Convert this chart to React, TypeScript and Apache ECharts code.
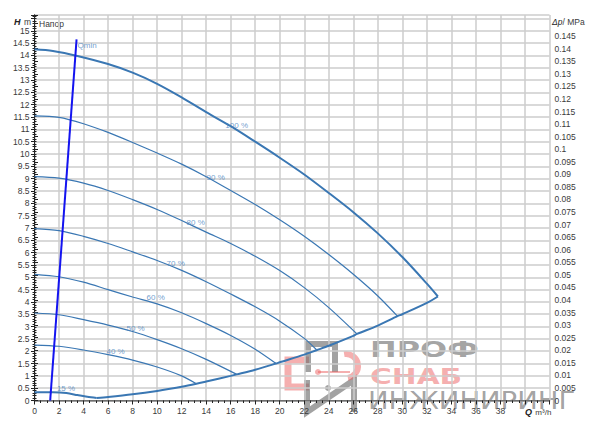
import React, { useEffect, useRef } from "react";
import * as echarts from "echarts";

// ---- data (Q in m³/h, H in m) ----
const q100 = [0, 1.5, 3.5, 6, 8, 10, 12, 14, 16, 18, 20, 22, 24, 26, 28, 30, 32, 32.9];
const h100 = [14.25, 14.18, 13.98, 13.65, 13.3, 12.85, 12.3, 11.7, 11.13, 10.5, 9.85, 9.17, 8.42, 7.64, 6.78, 5.82, 4.74, 4.22];

const q90 = [0, 2, 4, 6, 8, 10, 12, 14, 16, 18, 20, 22, 24, 26, 28, 29.6];
const h90 = [11.55, 11.49, 11.23, 10.88, 10.47, 10.04, 9.59, 9.08, 8.52, 7.95, 7.33, 6.66, 5.92, 5.12, 4.24, 3.42];

const q80 = [0, 2, 4, 6, 8, 10, 12, 14, 16, 18, 20, 22, 24, 26.3];
const h80 = [9.08, 9.02, 8.82, 8.52, 8.15, 7.75, 7.3, 6.83, 6.37, 5.85, 5.27, 4.58, 3.77, 2.7];

const q70 = [0, 2, 4, 6, 8, 10, 12, 14, 16, 18, 20, 22, 23];
const h70 = [6.97, 6.89, 6.66, 6.37, 6.03, 5.68, 5.28, 4.82, 4.32, 3.8, 3.22, 2.52, 2.06];

const q60 = [0, 2, 4, 6, 8, 10, 12, 14, 16, 18, 19.7];
const h60 = [5.12, 5.02, 4.8, 4.5, 4.2, 3.92, 3.56, 3.12, 2.64, 2.08, 1.5];

const q50 = [0, 2, 4, 6, 8, 10, 12, 14, 16.5];
const h50 = [3.55, 3.48, 3.28, 3.06, 2.8, 2.47, 2.1, 1.67, 1.06];

const q40 = [0, 2, 4, 6, 8, 10, 12, 13.2];
const h40 = [2.25, 2.2, 2.05, 1.86, 1.64, 1.36, 1.0, 0.68];

const q15 = [0, 1.5, 2.6, 3.5, 4.3, 5.07];
const h15 = [0.33, 0.33, 0.3, 0.22, 0.15, 0.1];

const qSys = [5.07, 6, 8, 10, 12, 13.2, 14, 16, 16.5, 18, 19.7, 20, 22, 23, 24, 26, 26.3, 28, 29.6, 30, 32, 32.9];
const hSys = [0.1, 0.14, 0.25, 0.39, 0.56, 0.68, 0.77, 1.0, 1.06, 1.25, 1.5, 1.55, 1.86, 2.04, 2.22, 2.62, 2.7, 3.04, 3.42, 3.5, 3.96, 4.22];

const qMin = [1.28, 3.43];
const hMin = [0, 14.65];

const curveNames = ["100 %", "90 %", "80 %", "70 %", "60 %", "50 %", "40 %", "15 %", "Qmin"];
const labelQ = [16.49, 14.78, 13.14, 11.51, 9.88, 8.24, 6.61, 2.57, 4.29];
const labelH = [11.15, 9.06, 7.21, 5.54, 4.16, 2.94, 1.97, 0.47, 14.4];

// axis ranges / ticks
const xMax = 42;
const xStep = 2;
const hMax = 15.64;
const hStep = 0.5;
const pMax = 0.1534;
const pStep = 0.005;

const pair = (qs: number[], hs: number[]) => qs.map((q, i) => [q, hs[i]]);

const CURVE = "#3a77b3";
const LABEL = "#4d86bf";
const AX = "#222";
const TXT = "#3a3a3a";
const FONT = "Arial, 'Liberation Sans', sans-serif";

function lineSeries(name: string, data: number[][], width: number, color = CURVE, smooth: number | boolean = 0.3) {
  return {
    type: "line",
    name,
    data,
    smooth,
    showSymbol: false,
    symbol: "none",
    lineStyle: { color, width },
    z: 3,
  };
}

export default function App() {
  const ref = useRef<HTMLDivElement>(null);
  useEffect(() => {
    if (!ref.current) return;
    const chart = echarts.init(ref.current, null, { renderer: "svg" });
    const gray = "rgba(105,105,105,0.62)";
    const pink = "rgba(236,95,95,0.5)";
    const option: any = {
      animation: false,
      backgroundColor: "#fff",
      textStyle: { fontFamily: FONT },
      grid: { left: 34.5, right: 50.5, top: 15, bottom: 32.5, containLabel: false },
      xAxis: [
        {
          type: "value",
          min: 0,
          max: xMax,
          interval: xStep,
          axisLine: { lineStyle: { color: AX, width: 1 } },
          axisTick: { length: 4, lineStyle: { color: AX } },
          minorTick: { show: true, splitNumber: 4, length: 2.5, lineStyle: { color: AX } },
          axisLabel: {
            fontSize: 8.5,
            color: TXT,
            margin: 6,
            fontFamily: FONT,
            formatter: (v: number) => (v > 38.01 ? "" : String(v)),
          },
          splitLine: { show: true, lineStyle: { color: "#cdcdcd", width: 1.5 } },
        },
        {
          type: "value",
          position: "top",
          min: 0,
          max: xMax,
          axisLine: { show: true, lineStyle: { color: "#8a8a8a", width: 1.5 } },
          axisTick: { show: false },
          axisLabel: { show: false },
          splitLine: { show: false },
        },
      ],
      yAxis: [
        {
          type: "value",
          position: "left",
          min: 0,
          max: hMax,
          interval: hStep,
          axisLine: { show: true, lineStyle: { color: AX, width: 1 } },
          axisTick: { show: true, length: 3.5, lineStyle: { color: AX } },
          minorTick: { show: true, splitNumber: 5, length: 2, lineStyle: { color: AX } },
          axisLabel: {
            fontSize: 8.5,
            color: TXT,
            margin: 5,
            fontFamily: FONT,
            formatter: (v: number) => (v > 15.01 ? "" : String(v)),
          },
          splitLine: { show: true, lineStyle: { color: "#cdcdcd", width: 1.5 } },
        },
        {
          type: "value",
          position: "right",
          min: 0,
          max: pMax,
          interval: pStep,
          axisLine: { show: true, lineStyle: { color: AX, width: 1 } },
          axisTick: { show: true, length: 3.5, lineStyle: { color: AX } },
          minorTick: { show: true, splitNumber: 5, length: 2, lineStyle: { color: AX } },
          axisLabel: {
            fontSize: 8.5,
            color: TXT,
            margin: 5,
            fontFamily: FONT,
            formatter: (v: number) => (v > 0.1451 ? "" : String(v)),
          },
          splitLine: { show: false },
        },
      ],
      series: [
        lineSeries("100 %", pair(q100, h100), 2),
        lineSeries("90 %", pair(q90, h90), 1.2),
        lineSeries("80 %", pair(q80, h80), 1.2),
        lineSeries("70 %", pair(q70, h70), 1.2),
        lineSeries("60 %", pair(q60, h60), 1.2),
        lineSeries("50 %", pair(q50, h50), 1.2),
        lineSeries("40 %", pair(q40, h40), 1.2),
        lineSeries("15 %", pair(q15, h15), 2),
        lineSeries("max", pair(qSys, hSys), 2),
        lineSeries("Qmin", pair(qMin, hMin), 2, "#1414f0", false),
        {
          type: "scatter",
          name: "labels",
          symbolSize: 0,
          data: curveNames.map((n, i) => [labelQ[i], labelH[i], n]),
          label: {
            show: true,
            position: "inside",
            fontSize: 8,
            color: LABEL,
            fontFamily: FONT,
            formatter: (p: any) => p.data[2],
          },
          z: 5,
        },
      ],
      graphic: [
        {
          type: "text",
          x: 31,
          y: 22,
          style: {
            text: "{b|H} {n|m}",
            align: "right",
            verticalAlign: "middle",
            rich: {
              b: { fontSize: 9, fontWeight: "bold", fontStyle: "italic", fill: "#222", fontFamily: FONT },
              n: { fontSize: 8.5, fill: TXT, fontFamily: FONT },
            },
          },
        },
        {
          type: "text",
          x: 39,
          y: 24,
          style: { text: "Напор", fontSize: 8.5, fill: TXT, verticalAlign: "middle", fontFamily: FONT },
        },
        {
          type: "text",
          x: 552,
          y: 22,
          style: {
            text: "{b|Δp}{n|/ MPa}",
            verticalAlign: "middle",
            rich: {
              b: { fontSize: 8.5, fontStyle: "italic", fill: "#222", fontFamily: FONT },
              n: { fontSize: 8.5, fill: TXT, fontFamily: FONT },
            },
          },
        },
        {
          type: "text",
          x: 525,
          y: 412,
          style: {
            text: "{b|Q} {n|m³/h}",
            verticalAlign: "middle",
            rich: {
              b: { fontSize: 9, fontWeight: "bold", fontStyle: "italic", fill: "#222", fontFamily: FONT },
              n: { fontSize: 8, fill: TXT, fontFamily: FONT },
            },
          },
        },
        // watermark
        {
          type: "group",
          z: 100,
          children: [
            { type: "polyline", shape: { points: [[309, 360], [288, 360], [288, 387], [309, 387]] }, style: { stroke: pink, lineWidth: 7, fill: null } },
            { type: "polyline", shape: { points: [[308, 372], [308, 344], [335, 344], [335, 372]] }, style: { stroke: gray, lineWidth: 6, fill: null } },
            { type: "polyline", shape: { points: [[307, 380], [307, 412], [354, 380], [354, 412]] }, style: { stroke: gray, lineWidth: 6, fill: null } },
            { type: "line", shape: { x1: 318, y1: 372, x2: 350, y2: 372 }, style: { stroke: pink, lineWidth: 2 } },
            { type: "circle", shape: { cx: 318, cy: 372, r: 3 }, style: { fill: pink } },
            { type: "arc", shape: { cx: 346, cy: 366, r: 12, startAngle: -Math.PI * 0.55, endAngle: Math.PI * 0.45 }, style: { stroke: pink, lineWidth: 6, fill: null } },
            { type: "circle", shape: { cx: 328, cy: 388, r: 3 }, style: { fill: gray } },
            {
              type: "text",
              x: 370,
              y: 338,
              scaleX: 1.45,
              style: { text: "ПРОФ", fontSize: 22, fontWeight: "bold", fill: gray, fontFamily: "'DejaVu Sans', sans-serif" },
            },
            {
              type: "text",
              x: 370,
              y: 365,
              scaleX: 1.35,
              style: { text: "СНАБ", fontSize: 22, fontWeight: "bold", fill: pink, fontFamily: "'DejaVu Sans', sans-serif" },
            },
            {
              type: "text",
              x: 368,
              y: 388,
              scaleX: 1.1,
              style: { text: "ИНЖИНИРИНГ", fontSize: 25, fill: gray, fontFamily: "'DejaVu Sans', sans-serif" },
            },
          ],
        },
      ],
    };
    chart.setOption(option);
    return () => chart.dispose();
  }, []);
  return (
    <div
      ref={ref}
      style={{ position: "fixed", left: 0, top: 0, width: 600, height: 433, background: "#fff" }}
    />
  );
}
